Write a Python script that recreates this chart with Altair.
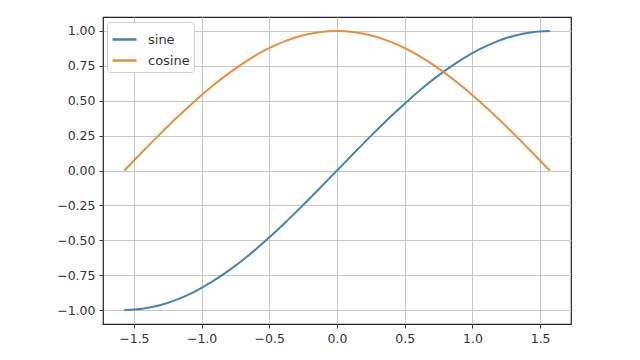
import altair as alt
import pandas as pd

x_vals = [-1.571, -1.440, -1.309, -1.178, -1.047, -0.916, -0.785, -0.654, -0.524, -0.393,
          -0.262, -0.131, 0.0, 0.131, 0.262, 0.393, 0.524, 0.654, 0.785, 0.916,
          1.047, 1.178, 1.309, 1.440, 1.571]
sine_vals = [-1.0, -0.991, -0.966, -0.924, -0.866, -0.793, -0.707, -0.609, -0.5, -0.383,
             -0.259, -0.131, 0.0, 0.131, 0.259, 0.383, 0.5, 0.609, 0.707, 0.793,
             0.866, 0.924, 0.966, 0.991, 1.0]
cosine_vals = [0.0, 0.131, 0.259, 0.383, 0.5, 0.609, 0.707, 0.793, 0.866, 0.924,
               0.966, 0.991, 1.0, 0.991, 0.966, 0.924, 0.866, 0.793, 0.707, 0.609,
               0.5, 0.383, 0.259, 0.131, 0.0]
series_names = ["sine", "cosine"]
series_colors = ["#4683b3", "#e98f3a"]
x_ticks = [-1.5, -1.0, -0.5, 0.0, 0.5, 1.0, 1.5]
y_ticks = [-1.0, -0.75, -0.5, -0.25, 0.0, 0.25, 0.5, 0.75, 1.0]

rows = []
for name, vals in zip(series_names, [sine_vals, cosine_vals]):
    for i, (xv, yv) in enumerate(zip(x_vals, vals)):
        rows.append({"x": xv, "y": yv, "series": name, "order": i})
df = pd.DataFrame(rows)

axis_common = dict(
    grid=True, gridColor="#c8c8c8", gridWidth=1,
    domain=False, tickColor="#333333", tickSize=4, tickWidth=1,
    labelFont="DejaVu Sans", labelFontSize=12.5, labelColor="#333333",
    labelPadding=4, title=None,
)

chart = alt.Chart(df).mark_line(strokeWidth=2, clip=True, interpolate="monotone").encode(
    x=alt.X("x:Q", scale=alt.Scale(domain=[-1.728, 1.728], nice=False, zero=False),
            axis=alt.Axis(values=x_ticks, format=".1f", **axis_common)),
    y=alt.Y("y:Q", scale=alt.Scale(domain=[-1.1, 1.1], nice=False, zero=False),
            axis=alt.Axis(values=y_ticks, format=".2f", **axis_common)),
    color=alt.Color("series:N",
                    scale=alt.Scale(domain=series_names, range=series_colors),
                    legend=alt.Legend(
                        title=None, orient="none", legendX=4, legendY=5,
                        symbolType="stroke", symbolStrokeWidth=2.5, symbolSize=576,
                        labelFont="DejaVu Sans", labelFontSize=13, labelColor="#333333",
                        fillColor="white", strokeColor="#d0d0d0", cornerRadius=3,
                        padding=4, rowPadding=0, labelOffset=10,
                    )),
    order="order:Q",
).properties(
    width=468, height=307,
    padding={"left": 95, "top": 9, "right": 50, "bottom": 28},
    autosize=alt.AutoSizeParams(type="none"),
    background="white",
).configure_view(
    stroke="#222222", strokeWidth=1.2
)

chart.save("out.html", embed_options={"renderer": "svg", "actions": False})
